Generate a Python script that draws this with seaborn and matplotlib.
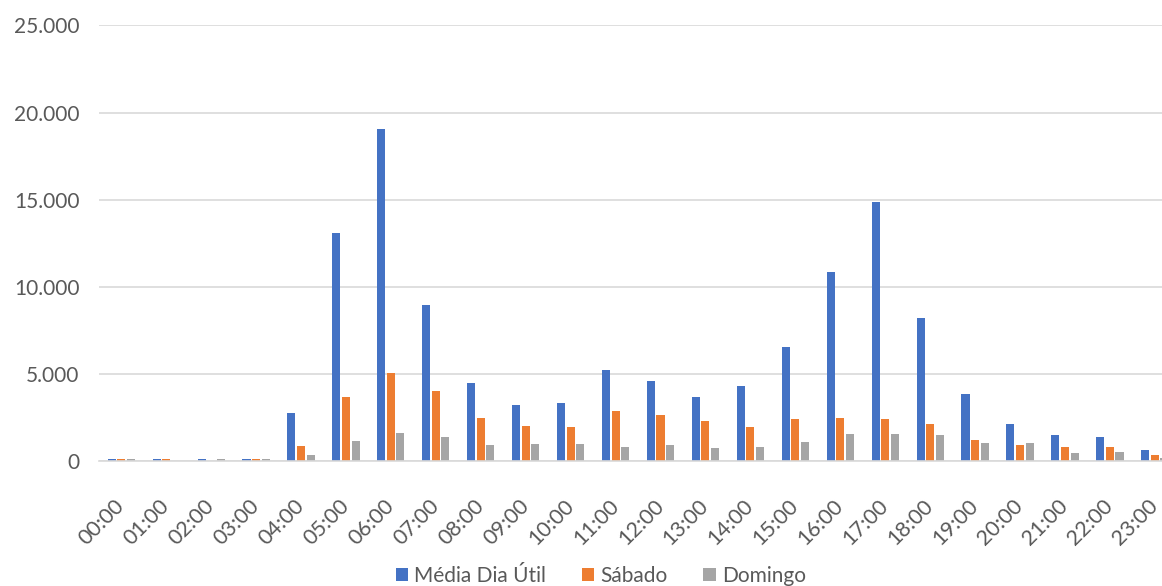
import numpy as np
import pandas as pd
import matplotlib
matplotlib.use("Agg")
import matplotlib.pyplot as plt
from matplotlib.ticker import FuncFormatter
import seaborn as sns

hours = [f"{h:02d}:00" for h in range(24)]
series_names = ["Média Dia Útil", "Sábado", "Domingo"]

media_dia_util = [130, 130, 130, 130, 2770, 13100, 19040, 8970, 4500, 3200, 3310, 5230,
                  4580, 3660, 4310, 6550, 10860, 14880, 8220, 3850, 2110, 1480, 1380, 650]
sabado = [130, 130, 0, 130, 860, 3700, 5070, 4040, 2470, 2010, 1940, 2860,
          2660, 2280, 1940, 2400, 2470, 2400, 2110, 1190, 900, 820, 820, 360]
domingo = [130, 0, 130, 130, 330, 1150, 1630, 1360, 900, 1000, 1000, 820,
           900, 730, 820, 1090, 1550, 1550, 1480, 1020, 1020, 440, 500, 170]

colors = ["#4472C4", "#ED7D31", "#A5A5A5"]
text_color = "#595959"
grid_color = "#D9D9D9"

df = pd.DataFrame({
    "hora": hours * 3,
    "serie": [series_names[0]] * 24 + [series_names[1]] * 24 + [series_names[2]] * 24,
    "valor": media_dia_util + sabado + domingo,
})

sns.set_theme(style="white")
plt.rcParams["font.family"] = ["Lato", "DejaVu Sans"]

fig = plt.figure(figsize=(11.62, 5.86), dpi=100)
# the plot area runs slightly past the right edge of the canvas
ax = fig.add_axes([0.085, 0.2133, 0.9282, 0.7432])

sns.barplot(data=df, x="hora", y="valor", hue="serie", order=hours,
            hue_order=series_names, palette=colors, saturation=1,
            width=0.64, gap=0.16, linewidth=0, ax=ax, legend=True)

ax.set_ylim(0, 25000)
ax.set_yticks(np.arange(0, 25001, 5000))
ax.yaxis.set_major_formatter(FuncFormatter(lambda v, p: f"{int(v):,}".replace(",", ".")))
ax.set_xlim(-0.5, 23.5)
ax.grid(axis="y", color=grid_color, linewidth=1.2)
ax.set_axisbelow(True)
for side in ["top", "right", "left"]:
    ax.spines[side].set_visible(False)
ax.spines["bottom"].set_color(grid_color)
ax.spines["bottom"].set_linewidth(1.2)
ax.set_xlabel("")
ax.set_ylabel("")
ax.tick_params(axis="both", length=0, colors=text_color, labelsize=15.5)
ax.tick_params(axis="y", pad=14)
ax.tick_params(axis="x", pad=30)
for lbl in ax.get_yticklabels():
    lbl.set_fontsize(15)
for lbl in ax.get_xticklabels():
    lbl.set_rotation(45)
    lbl.set_ha("right")
    lbl.set_rotation_mode("anchor")
    lbl.set_va("center")

handles, labels = ax.get_legend_handles_labels()
ax.legend(handles, labels, loc="lower center", bbox_to_anchor=(0.517, -0.014),
          bbox_transform=fig.transFigure, ncol=3, frameon=False, fontsize=15,
          labelcolor=text_color, handlelength=0.6, handleheight=0.6, handletextpad=0.3,
          columnspacing=1.7, borderaxespad=0)

fig.savefig("out.png", dpi=100, facecolor="white")
